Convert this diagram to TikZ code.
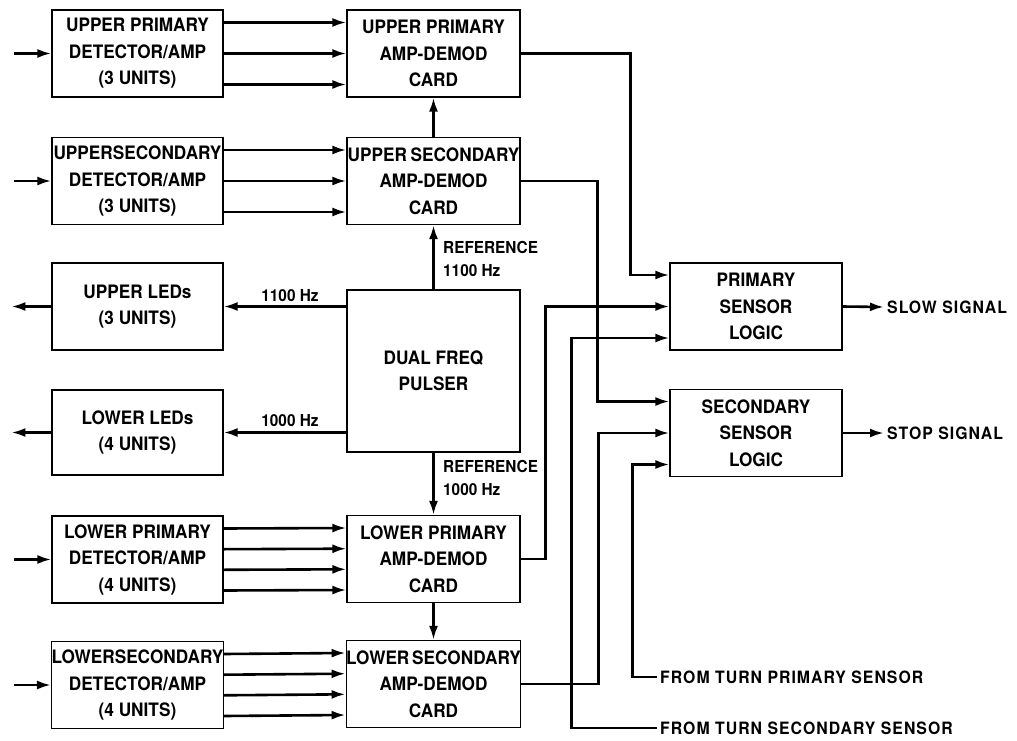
\documentclass[tikz,border=0pt]{standalone}
\usepackage{fontspec}
\setmainfont[FakeStretch=0.93]{TeX Gyre Heros}
\newfontfamily\widelbl[FakeStretch=0.93,LetterSpace=6]{TeX Gyre Heros}
\usetikzlibrary{arrows.meta,calc}
\begin{document}
\begin{tikzpicture}[x=1pt,y=-1pt,
  blk/.style={draw, line width=1.2pt, minimum width=171pt, minimum height=87pt, inner sep=0pt, align=center, font=\fontsize{18.5}{26.5}\selectfont\bfseries},
  conn/.style={line width=2.6pt, -{Latex[length=14pt,width=9pt]}},
  lbl/.style={font=\fontsize{16.5}{23}\selectfont\bfseries, inner sep=2pt},
  rlbl/.style={font=\widelbl\fontsize{17}{23}\selectfont\bfseries, inner sep=3pt}]
\useasboundingbox (0,0) rectangle (1017,741);
% left column
\node[blk] (upd) at (137.5,53.5) {UPPER PRIMARY\\DETECTOR/AMP\\(3 UNITS)};
\node[blk] (usd) at (137.5,181) {UPPERSECONDARY\\DETECTOR/AMP\\(3 UNITS)};
\node[blk] (uled) at (137.5,306.5) {UPPER LEDs\\(3 UNITS)};
\node[blk, minimum height=85pt] (lled) at (137.5,432.5) {LOWER LEDs\\(4 UNITS)};
\node[blk] (lpd) at (137.5,559.5) {LOWER PRIMARY\\DETECTOR/AMP\\(4 UNITS)};
\node[blk] (lsd) at (137.5,685) {LOWERSECONDARY\\DETECTOR/AMP\\(4 UNITS)};
% middle column
\node[blk, minimum width=173pt] (upa) at (433.5,53.5) {UPPER PRIMARY\\AMP-DEMOD\\CARD};
\node[blk, minimum width=173pt] (usa) at (433.5,181) {UPPER\hspace{0.2em}SECONDARY\\AMP-DEMOD\\CARD};
\node[blk, minimum width=173pt, minimum height=162pt] (pulser) at (433.5,371) {DUAL FREQ\\PULSER};
\node[blk, minimum width=173pt] (lpa) at (433.5,559) {LOWER PRIMARY\\AMP-DEMOD\\CARD};
\node[blk, minimum width=173pt] (lsa) at (433.5,684) {LOWER\hspace{0.15em}SECONDARY\\AMP-DEMOD\\CARD};
% right column
\node[blk, minimum width=172pt] (psl) at (756,306.5) {PRIMARY\\SENSOR\\LOGIC};
\node[blk, minimum width=172pt] (ssl) at (756,433) {SECONDARY\\SENSOR\\LOGIC};
% labels
\node[lbl, anchor=south] (f1100) at (290,304) {1100 Hz};
\node[lbl, anchor=south] (f1000) at (290,429) {1000 Hz};
\node[lbl, anchor=west, align=left] (ref1) at (441,259) {REFERENCE\\1100 Hz};
\node[lbl, anchor=west, align=left] (ref2) at (441,478) {REFERENCE\\1000 Hz};
\node[rlbl, anchor=west] (slow) at (884,307) {SLOW SIGNAL};
\node[rlbl, anchor=west] (stop) at (884,433) {STOP SIGNAL};
\node[rlbl, anchor=west] (ftp) at (657,677) {FROM TURN PRIMARY SENSOR};
\node[rlbl, anchor=west] (fts) at (657,728) {FROM TURN SECONDARY SENSOR};
% inputs to detectors
\foreach \n in {upd,usd,lpd,lsd} \draw[conn] ([xshift=-37pt]\n.west) -- (\n.west);
% LED outputs
\draw[conn] (uled.west) -- ([xshift=-40pt]uled.west);
\draw[conn] (lled.west) -- ([xshift=-40pt]lled.west);
\draw[conn] (pulser.west |- uled.east) -- (uled.east);
\draw[conn] (pulser.west |- lled.east) -- (lled.east);
% detector -> amp
\foreach \s in {31,0,-31} {
  \draw[conn] ([yshift=\s pt]upd.east) -- ([yshift=\s pt]upa.west);
  \draw[conn] ([yshift=\s pt]usd.east) -- ([yshift=\s pt]usa.west);
}
\foreach \s in {31,10.3,-10.3,-31} {
  \draw[conn] ([yshift=\s pt]lpd.east) -- ([yshift=\s pt]lpa.west);
  \draw[conn] ([yshift=\s pt]lsd.east) -- ([yshift=\s pt]lsa.west);
}
% references
\draw[conn] (pulser.north) -- (usa.south);
\draw[conn] (usa.north) -- (upa.south);
\draw[conn] (pulser.south) -- (lpa.north);
\draw[conn] (lpa.south) -- (lsa.north);
% routing to sensor logic
\draw[conn] (upa.east) -- ++(110,0) |- ([yshift=31.5pt]psl.west);
\draw[conn] (usa.east) -- ++(77,0) |- ([yshift=31.5pt]ssl.west);
\draw[conn] (lpa.east) -- ++(25,0) |- (psl.west);
\draw[conn] (lsa.east) -- ++(77,0) |- (ssl.west);
\draw[conn] (fts.west) -| ([xshift=-98pt,yshift=-31.5pt]psl.west) -- ([yshift=-31.5pt]psl.west);
\draw[conn] (ftp.west) -| ([xshift=-37pt,yshift=-31.5pt]ssl.west) -- ([yshift=-31.5pt]ssl.west);
% outputs
\draw[conn] (psl.east) -- (slow.west);
\draw[conn] (ssl.east) -- (stop.west);
\end{tikzpicture}
\end{document}
